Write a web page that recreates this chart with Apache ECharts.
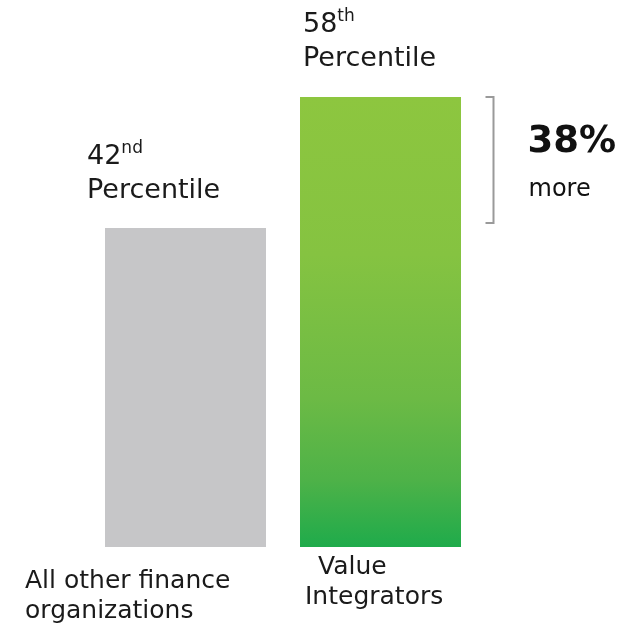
<!DOCTYPE html>
<html>
<head>
<meta charset="utf-8">
<script src="https://cdn.jsdelivr.net/npm/echarts@6/dist/echarts.min.js"></script>
<style>
  html, body { margin: 0; padding: 0; background: #fff; }
  #chart { width: 635px; height: 627px; }
</style>
</head>
<body>
<div id="chart"></div>
<script>
  // data
  const categories = ['All other finance\norganizations', 'Value\nIntegrators']
  const percentiles = [42, 58]
  const ordinals = ['nd', 'th']
  const gapText = ['38%', 'more']

  const FONT = '"DejaVu Sans", sans-serif'
  const TEXT = '#1a1a1a'

  const chart = echarts.init(document.getElementById('chart'))

  const green = new echarts.graphic.LinearGradient(0, 0, 0, 1, [
    { offset: 0, color: '#8dc63f' },
    { offset: 0.35, color: '#85c341' },
    { offset: 0.67, color: '#6cba45' },
    { offset: 0.85, color: '#4eb248' },
    { offset: 1, color: '#1fab4b' }
  ])

  // label for the category name under each bar
  const bottomLabels = [
    { position: [-80, '100%'], offset: [0, 19], formatter: '{a|All other finance}\n{a|organizations}' },
    { position: [5, '100%'], offset: [0, 5], formatter: '{v|Value}\n{a|Integrators}' }
  ]
  // percentile label above each bar
  const topPos = [[-18, -88], [3, -89]]

  const rich = {
    a: { fontFamily: FONT, fontSize: 25, lineHeight: 30, color: TEXT },
    v: { fontFamily: FONT, fontSize: 25, lineHeight: 30, color: TEXT, padding: [0, 0, 0, 13] }
  }
  const pctRich = {
    n: { fontFamily: FONT, fontSize: 27, lineHeight: 34, color: TEXT },
    s: { fontFamily: FONT, fontSize: 17, lineHeight: 30, color: TEXT, verticalAlign: 'top' },
    p: { fontFamily: FONT, fontSize: 27, lineHeight: 34, color: TEXT }
  }

  chart.setOption({
    animation: false,
    grid: { left: 88, right: 157, top: 97, bottom: 80 },
    xAxis: {
      type: 'category',
      data: categories,
      show: false
    },
    yAxis: {
      type: 'value',
      min: 3,
      max: 58,
      show: false
    },
    series: [
      {
        type: 'bar',
        barWidth: 161,
        data: percentiles.map((v, i) => ({
          value: v,
          itemStyle: { color: i === 0 ? '#c6c6c8' : green },
          label: {
            show: true,
            position: bottomLabels[i].position,
            offset: bottomLabels[i].offset,
            align: 'left',
            verticalAlign: 'top',
            formatter: bottomLabels[i].formatter,
            rich: rich
          }
        }))
      },
      {
        // transparent twin carrying the percentile labels
        type: 'bar',
        barWidth: 161,
        barGap: '-100%',
        silent: true,
        itemStyle: { color: 'rgba(0,0,0,0)' },
        data: percentiles.map((v, i) => ({
          value: v,
          label: {
            show: true,
            position: topPos[i],
            align: 'left',
            verticalAlign: 'top',
            formatter: '{n|' + v + '}{s|' + ordinals[i] + '}\n{p|Percentile}',
            rich: pctRich
          }
        }))
      },
      {
        // bracket + "38% more" between the two bar tops
        type: 'custom',
        silent: true,
        data: [[1, percentiles[1], percentiles[0]]],
        renderItem (params, api) {
          const top = api.coord([api.value(0), api.value(1)])
          const bot = api.coord([api.value(0), api.value(2)])
          const x = top[0] + 113
          const y1 = top[1]
          const y2 = bot[1] - 5
          const mid = (y1 + y2) / 2
          return {
            type: 'group',
            children: [
              {
                type: 'polyline',
                shape: { points: [[x - 8, y1], [x, y1], [x, y2], [x - 8, y2]] },
                style: { stroke: '#9a9a9a', lineWidth: 2, fill: null }
              },
              {
                type: 'text',
                style: {
                  x: x + 34, y: mid - 18,
                  text: gapText[0],
                  font: 'bold 37px ' + FONT,
                  fill: '#111',
                  verticalAlign: 'middle'
                }
              },
              {
                type: 'text',
                style: {
                  x: x + 35, y: mid + 30,
                  text: gapText[1],
                  font: '24px ' + FONT,
                  fill: '#111',
                  verticalAlign: 'middle'
                }
              }
            ]
          }
        }
      }
    ]
  })
</script>
</body>
</html>
